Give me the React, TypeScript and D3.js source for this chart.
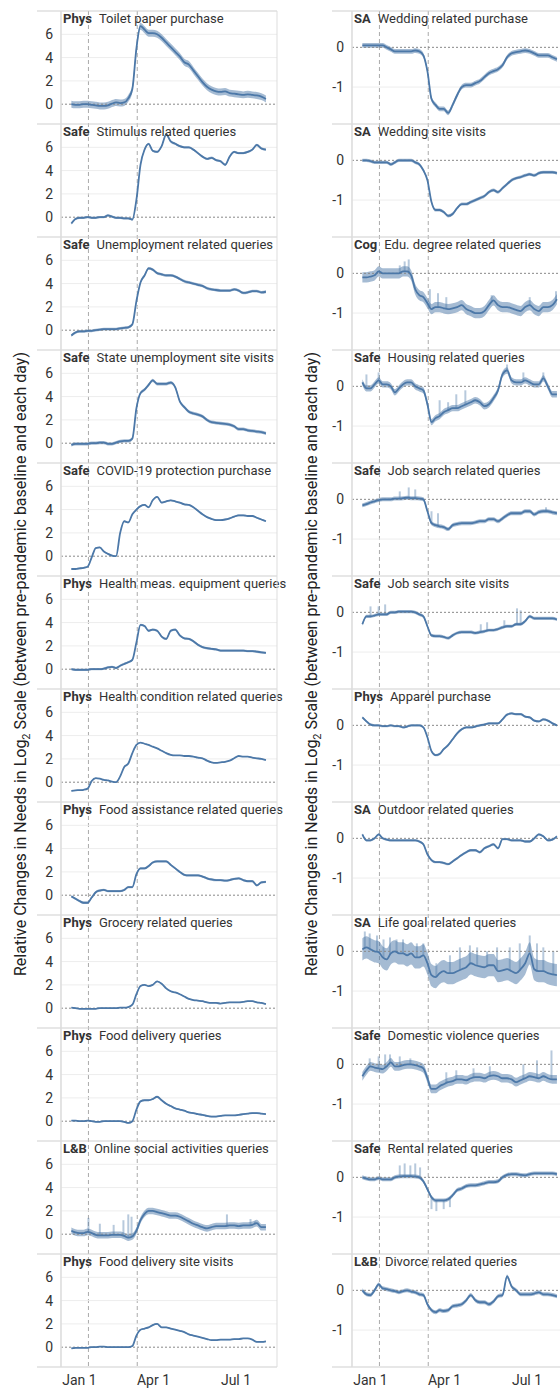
import React from 'react';
import * as d3 from 'd3';

// sample days, counted from Jan 1 2020 (5-day steps)
const days = [-10, -5, 0, 5, 10, 15, 20, 25, 30, 35, 40, 45, 50, 55, 60, 65, 70, 75, 80, 85, 90, 95, 100,
  105, 110, 115, 120, 125, 130, 135, 140, 145, 150, 155, 160, 165, 170, 175, 180, 185, 190, 195, 200, 205, 210, 215];

const tickDays = [0, 91, 182];
const tickLabels = ['Jan 1', 'Apr 1', 'Jul 1'];
const eventDays = [11, 71];

const leftTicks = [0, 2, 4, 6];
const rightTicks = [-1, 0];

// left column
const toiletPaper = [0.0, -0.05, -0.05, 0.0, 0.0, -0.05, -0.1, -0.15, -0.15, -0.1, 0.05, 0.15, 0.1, 0.15, 0.5, 1.3, 4.8, 6.7, 6.4, 6.1, 6.1, 6.0, 5.7, 5.3, 4.9, 4.5, 4.1, 3.6, 3.4, 2.9, 2.4, 1.9, 1.5, 1.25, 1.1, 1.05, 1.1, 0.95, 0.9, 0.85, 0.8, 0.85, 0.8, 0.75, 0.65, 0.45];
const stimulus = [-0.55, -0.15, -0.05, -0.05, 0.0, -0.05, -0.05, 0.0, 0.0, 0.15, 0.05, -0.05, -0.05, -0.1, -0.1, -0.2, 1.5, 4.5, 5.8, 6.3, 5.7, 5.6, 6.1, 7.1, 6.5, 6.3, 6.1, 6.0, 6.0, 5.8, 5.5, 5.2, 5.0, 5.1, 4.9, 4.8, 4.5, 5.2, 5.6, 5.5, 5.5, 5.6, 5.8, 6.2, 5.9, 5.8];
const unemployment = [-0.45, -0.2, -0.1, -0.1, -0.05, -0.05, 0.0, 0.05, 0.1, 0.1, 0.1, 0.1, 0.15, 0.2, 0.25, 0.5, 2.5, 4.1, 4.7, 5.3, 5.2, 4.9, 4.8, 4.7, 4.7, 4.6, 4.4, 4.2, 4.1, 4.0, 3.9, 3.8, 3.6, 3.5, 3.45, 3.4, 3.4, 3.4, 3.5, 3.4, 3.2, 3.25, 3.35, 3.35, 3.25, 3.3];
const stateUnemp = [-0.15, -0.05, -0.05, -0.05, -0.05, 0.0, 0.0, 0.05, 0.05, -0.05, -0.05, 0.05, 0.15, 0.2, 0.2, 0.4, 3.0, 4.3, 4.6, 5.0, 5.4, 5.1, 5.1, 5.1, 5.2, 4.8, 3.6, 3.1, 2.7, 2.55, 2.45, 2.3, 2.0, 1.8, 1.75, 1.7, 1.65, 1.6, 1.45, 1.2, 1.2, 1.1, 1.05, 1.0, 0.95, 0.85];
const covidProtection = [-1.1, -1.1, -1.05, -1.0, -0.9, -0.1, 0.7, 0.75, 0.4, 0.2, 0.05, 0.0, 2.0, 3.0, 2.9, 3.6, 4.0, 4.3, 4.4, 4.2, 4.8, 5.1, 4.6, 4.7, 4.8, 4.7, 4.6, 4.45, 4.4, 4.2, 3.9, 3.6, 3.35, 3.2, 3.1, 3.1, 3.15, 3.25, 3.4, 3.5, 3.5, 3.45, 3.45, 3.3, 3.15, 3.0];
const healthMeas = [0.0, -0.05, -0.05, -0.05, -0.05, 0.0, 0.0, 0.0, 0.05, 0.15, 0.2, 0.1, 0.3, 0.45, 0.6, 0.8, 2.3, 3.8, 3.7, 3.3, 3.4, 3.3, 2.8, 2.6, 3.3, 3.4, 2.9, 2.65, 2.6, 2.4, 2.1, 1.9, 1.8, 1.75, 1.7, 1.6, 1.6, 1.6, 1.6, 1.6, 1.6, 1.55, 1.55, 1.5, 1.45, 1.4];
const healthCondition = [-0.75, -0.7, -0.68, -0.65, -0.55, 0.1, 0.35, 0.3, 0.2, 0.15, 0.05, 0.0, 0.5, 1.3, 1.6, 2.5, 3.2, 3.4, 3.3, 3.2, 3.05, 2.9, 2.7, 2.5, 2.35, 2.3, 2.3, 2.25, 2.25, 2.2, 2.1, 2.05, 1.85, 1.7, 1.65, 1.7, 1.75, 1.85, 2.05, 2.25, 2.2, 2.2, 2.1, 2.05, 2.0, 1.9];
const foodAssistance = [-0.1, -0.3, -0.5, -0.65, -0.65, -0.2, 0.25, 0.4, 0.45, 0.35, 0.35, 0.35, 0.35, 0.45, 0.7, 0.7, 1.8, 2.3, 2.3, 2.5, 2.8, 2.9, 2.9, 2.9, 2.6, 2.3, 2.0, 1.75, 1.7, 1.7, 1.7, 1.6, 1.45, 1.35, 1.3, 1.3, 1.25, 1.3, 1.4, 1.45, 1.3, 1.2, 1.2, 0.85, 1.1, 1.15];
const grocery = [0.05, 0.0, -0.05, -0.05, -0.05, -0.05, -0.05, 0.0, 0.0, 0.0, 0.0, 0.0, 0.05, 0.05, 0.1, 0.3, 1.2, 1.9, 2.0, 1.9, 2.0, 2.3, 2.1, 1.7, 1.45, 1.35, 1.2, 1.0, 0.8, 0.7, 0.65, 0.6, 0.5, 0.45, 0.45, 0.4, 0.45, 0.5, 0.5, 0.5, 0.55, 0.6, 0.6, 0.5, 0.45, 0.35];
const foodDeliveryQ = [0.05, 0.05, 0.0, 0.0, 0.05, 0.0, -0.05, -0.05, 0.0, 0.0, 0.0, 0.0, 0.0, -0.05, -0.15, 0.0, 1.0, 1.7, 1.8, 1.8, 1.9, 2.1, 1.8, 1.5, 1.3, 1.1, 1.0, 0.9, 0.75, 0.7, 0.6, 0.55, 0.45, 0.4, 0.4, 0.45, 0.5, 0.5, 0.5, 0.55, 0.6, 0.65, 0.7, 0.7, 0.65, 0.6];
const onlineSocial = [0.3, 0.15, 0.1, 0.1, 0.2, 0.1, -0.05, -0.1, -0.1, -0.1, -0.05, -0.05, -0.05, -0.15, -0.3, -0.2, 0.3, 1.2, 1.75, 2.0, 2.0, 1.9, 1.8, 1.7, 1.6, 1.6, 1.5, 1.3, 1.1, 0.9, 0.75, 0.6, 0.5, 0.6, 0.7, 0.7, 0.7, 0.75, 0.75, 0.7, 0.75, 0.75, 0.8, 0.95, 0.6, 0.6];
const foodDeliverySite = [-0.1, -0.05, -0.05, -0.05, -0.05, 0.0, 0.0, 0.05, 0.05, 0.0, 0.0, 0.0, 0.0, 0.0, 0.0, 0.1, 1.0, 1.5, 1.6, 1.7, 1.9, 2.0, 1.7, 1.7, 1.6, 1.5, 1.4, 1.3, 1.1, 1.0, 0.9, 0.8, 0.7, 0.6, 0.6, 0.65, 0.65, 0.65, 0.7, 0.7, 0.75, 0.75, 0.65, 0.45, 0.45, 0.5];

// right column
const weddingPurchase = [0.05, 0.05, 0.05, 0.05, 0.05, 0.05, 0.0, -0.05, -0.1, -0.1, -0.1, -0.1, -0.1, -0.08, -0.1, -0.2, -0.6, -1.3, -1.45, -1.55, -1.55, -1.65, -1.45, -1.2, -1.0, -0.95, -0.95, -0.9, -0.85, -0.75, -0.65, -0.6, -0.55, -0.45, -0.25, -0.15, -0.12, -0.1, -0.08, -0.1, -0.15, -0.2, -0.2, -0.2, -0.25, -0.3];
const weddingSite = [0.0, 0.0, -0.02, -0.05, -0.05, -0.05, -0.05, -0.1, -0.05, 0.0, 0.0, 0.0, 0.0, -0.05, -0.1, -0.25, -0.5, -1.05, -1.25, -1.25, -1.3, -1.4, -1.35, -1.2, -1.1, -1.1, -1.05, -1.0, -0.95, -0.9, -0.8, -0.75, -0.8, -0.7, -0.6, -0.5, -0.45, -0.42, -0.38, -0.35, -0.38, -0.32, -0.3, -0.3, -0.3, -0.32];
const eduDegree = [-0.1, -0.1, -0.08, -0.05, 0.05, 0.0, 0.0, 0.0, 0.0, 0.0, 0.05, 0.05, -0.05, -0.4, -0.55, -0.6, -0.75, -0.9, -0.85, -0.85, -0.88, -0.9, -0.88, -0.85, -0.8, -0.9, -0.95, -1.0, -1.0, -0.95, -0.8, -0.68, -0.8, -0.85, -0.85, -0.88, -0.92, -0.95, -0.85, -0.8, -0.9, -0.95, -0.85, -0.85, -0.8, -0.65];
const housing = [0.1, -0.05, -0.05, 0.05, 0.15, 0.05, 0.05, 0.0, -0.15, -0.05, 0.05, 0.1, 0.1, 0.0, -0.05, -0.1, -0.45, -0.9, -0.8, -0.75, -0.65, -0.6, -0.55, -0.55, -0.5, -0.45, -0.4, -0.35, -0.4, -0.5, -0.45, -0.3, -0.1, 0.3, 0.4, 0.15, 0.1, 0.1, 0.15, 0.1, 0.05, 0.05, 0.2, 0.0, -0.2, -0.2];
const jobSearchQ = [-0.15, -0.12, -0.08, -0.05, -0.02, 0.0, 0.0, 0.0, 0.02, 0.02, 0.03, 0.04, 0.03, 0.03, 0.02, 0.0, -0.3, -0.6, -0.65, -0.68, -0.7, -0.75, -0.65, -0.62, -0.6, -0.6, -0.6, -0.58, -0.55, -0.55, -0.5, -0.5, -0.55, -0.48, -0.4, -0.35, -0.35, -0.35, -0.3, -0.3, -0.38, -0.32, -0.3, -0.3, -0.33, -0.35];
const jobSearchSite = [-0.3, -0.1, -0.1, -0.08, -0.05, -0.05, -0.05, 0.0, 0.0, 0.02, 0.02, 0.02, 0.02, 0.0, -0.05, -0.1, -0.35, -0.58, -0.6, -0.6, -0.62, -0.65, -0.58, -0.52, -0.5, -0.5, -0.5, -0.52, -0.5, -0.48, -0.45, -0.45, -0.42, -0.38, -0.35, -0.35, -0.3, -0.3, -0.22, -0.1, -0.15, -0.15, -0.15, -0.15, -0.15, -0.18];
const apparel = [0.2, 0.1, 0.02, 0.0, 0.0, -0.02, -0.02, 0.0, -0.02, -0.02, -0.05, -0.03, 0.0, 0.0, 0.0, -0.05, -0.3, -0.65, -0.75, -0.72, -0.6, -0.5, -0.35, -0.2, -0.1, -0.05, -0.05, -0.03, 0.0, 0.02, 0.05, 0.05, 0.05, 0.15, 0.27, 0.3, 0.28, 0.28, 0.22, 0.2, 0.12, 0.1, 0.15, 0.12, 0.05, 0.0];
const outdoor = [0.1, -0.05, -0.05, 0.0, 0.1, 0.0, -0.03, -0.05, -0.05, -0.05, -0.05, -0.05, -0.05, -0.05, -0.08, -0.15, -0.4, -0.55, -0.6, -0.6, -0.62, -0.65, -0.58, -0.5, -0.42, -0.35, -0.3, -0.3, -0.35, -0.25, -0.2, -0.15, -0.25, -0.02, -0.02, -0.05, -0.05, -0.05, -0.08, -0.08, 0.0, 0.1, 0.05, -0.05, -0.03, 0.05];
const lifeGoal = [0.05, 0.1, 0.05, 0.0, -0.02, -0.15, -0.2, -0.05, 0.0, -0.05, -0.05, -0.1, -0.05, -0.15, -0.15, -0.1, -0.3, -0.6, -0.65, -0.55, -0.5, -0.55, -0.55, -0.5, -0.45, -0.4, -0.3, -0.35, -0.38, -0.4, -0.35, -0.35, -0.5, -0.48, -0.45, -0.5, -0.55, -0.45, -0.3, -0.05, -0.45, -0.5, -0.5, -0.55, -0.58, -0.6];
const domesticViolence = [-0.3, -0.15, -0.05, -0.08, -0.1, -0.12, -0.05, 0.05, -0.05, -0.05, -0.02, 0.0, 0.0, -0.02, -0.05, -0.1, -0.35, -0.62, -0.62, -0.55, -0.5, -0.45, -0.42, -0.38, -0.38, -0.4, -0.35, -0.32, -0.32, -0.35, -0.3, -0.28, -0.3, -0.35, -0.35, -0.38, -0.45, -0.4, -0.35, -0.3, -0.32, -0.35, -0.3, -0.35, -0.38, -0.38];
const rental = [0.0, -0.03, -0.05, -0.05, -0.02, -0.05, -0.05, -0.05, 0.0, 0.02, 0.03, 0.03, 0.03, 0.02, 0.0, -0.1, -0.3, -0.5, -0.58, -0.58, -0.58, -0.55, -0.45, -0.32, -0.28, -0.22, -0.2, -0.2, -0.18, -0.15, -0.12, -0.12, -0.1, 0.0, 0.06, 0.08, 0.08, 0.06, 0.05, 0.08, 0.1, 0.1, 0.1, 0.1, 0.1, 0.08];
const divorce = [0.0, -0.1, -0.12, 0.0, 0.15, 0.05, 0.03, 0.0, -0.02, -0.05, -0.02, 0.0, -0.03, -0.05, -0.1, -0.12, -0.35, -0.5, -0.55, -0.5, -0.52, -0.5, -0.4, -0.38, -0.35, -0.25, -0.12, -0.25, -0.3, -0.3, -0.35, -0.28, -0.15, -0.12, 0.35, 0.1, 0.0, -0.1, -0.1, -0.1, -0.08, -0.05, -0.1, -0.1, -0.12, -0.15];

// noisy daily spikes: [day, value at spike tip]
const onlineSocialSpikes = [[11, 1.4], [25, 0.9], [42, 0.8], [54, 1.2], [60, 1.7], [64, 1.5], [172, 1.7], [198, 1.3], [203, 1.1]];
const eduDegreeSpikes = [[36, 0.2], [42, 0.3], [47, 0.35], [73, -0.4], [83, -0.5], [93, -0.6], [143, -0.55], [185, -0.6], [214, -0.45]];
const housingSpikes = [[-5, 0.3], [10, 0.35], [85, -0.35], [95, -0.4], [104, -0.2], [114, -0.1], [160, 0.55], [178, 0.35], [200, 0.35]];
const jobSearchQSpikes = [[36, 0.2], [47, 0.3], [55, 0.25], [75, -0.3], [83, -0.35], [203, -0.2]];
const jobSearchSiteSpikes = [[0, 0.15], [10, 0.15], [18, 0.2], [131, -0.3], [138, -0.25], [157, -0.2], [171, 0.1], [175, 0.05]];
const lifeGoalSpikes = [[-7, 0.5], [-1, 0.45], [8, 0.4], [16, 0.3], [24, 0.35], [32, 0.3], [40, 0.3], [57, 0.2], [65, 0.2], [81, -0.3], [97, -0.1], [108, 0.1], [119, 0.15], [127, 0.1], [138, 0.0], [149, 0.1], [163, 0.1], [174, 0.2], [185, 0.4], [193, 0.2], [200, 0.1], [211, 0.0]];
const domesticSpikes = [[-1, 0.15], [10, 0.2], [18, 0.25], [24, 0.25], [36, 0.2], [49, 0.15], [93, -0.2], [104, -0.15], [123, -0.1], [141, -0.05], [178, 0.0], [193, 0.1], [209, 0.35]];
const rentalSpikes = [[36, 0.3], [42, 0.35], [49, 0.3], [55, 0.35], [61, 0.25], [75, -0.8], [81, -0.85], [90, -0.8], [97, -0.75]];

type Panel = { tag: string; title: string; values: number[]; ci: number; spikes?: number[][] };

const leftPanels: Panel[] = [
  { tag: 'Phys', title: 'Toilet paper purchase', values: toiletPaper, ci: 0.3 },
  { tag: 'Safe', title: 'Stimulus related queries', values: stimulus, ci: 0.1 },
  { tag: 'Safe', title: 'Unemployment related queries', values: unemployment, ci: 0.12 },
  { tag: 'Safe', title: 'State unemployment site visits', values: stateUnemp, ci: 0.14 },
  { tag: 'Safe', title: 'COVID-19 protection purchase', values: covidProtection, ci: 0.07 },
  { tag: 'Phys', title: 'Health meas. equipment queries', values: healthMeas, ci: 0.1 },
  { tag: 'Phys', title: 'Health condition related queries', values: healthCondition, ci: 0.04 },
  { tag: 'Phys', title: 'Food assistance related queries', values: foodAssistance, ci: 0.1 },
  { tag: 'Phys', title: 'Grocery related queries', values: grocery, ci: 0.05 },
  { tag: 'Phys', title: 'Food delivery queries', values: foodDeliveryQ, ci: 0.06 },
  { tag: 'L&B', title: 'Online social activities queries', values: onlineSocial, ci: 0.28, spikes: onlineSocialSpikes },
  { tag: 'Phys', title: 'Food delivery site visits', values: foodDeliverySite, ci: 0.05 },
];

const rightPanels: Panel[] = [
  { tag: 'SA', title: 'Wedding related purchase', values: weddingPurchase, ci: 0.06 },
  { tag: 'SA', title: 'Wedding site visits', values: weddingSite, ci: 0.04 },
  { tag: 'Cog', title: 'Edu. degree related queries', values: eduDegree, ci: 0.13, spikes: eduDegreeSpikes },
  { tag: 'Safe', title: 'Housing related queries', values: housing, ci: 0.08, spikes: housingSpikes },
  { tag: 'Safe', title: 'Job search related queries', values: jobSearchQ, ci: 0.05, spikes: jobSearchQSpikes },
  { tag: 'Safe', title: 'Job search site visits', values: jobSearchSite, ci: 0.04, spikes: jobSearchSiteSpikes },
  { tag: 'Phys', title: 'Apparel purchase', values: apparel, ci: 0.03 },
  { tag: 'SA', title: 'Outdoor related queries', values: outdoor, ci: 0.03 },
  { tag: 'SA', title: 'Life goal related queries', values: lifeGoal, ci: 0.28, spikes: lifeGoalSpikes },
  { tag: 'Safe', title: 'Domestic violence queries', values: domesticViolence, ci: 0.11, spikes: domesticSpikes },
  { tag: 'Safe', title: 'Rental related queries', values: rental, ci: 0.05, spikes: rentalSpikes },
  { tag: 'L&B', title: 'Divorce related queries', values: divorce, ci: 0.05 },
];

// layout
const WIDTH = 560;
const HEIGHT = 1389;
const colX = [61, 352];
const sepX = [37, 332];
const plotW = 216;
const top = 11;
const rowH = 113;
const BLUE = '#4c78a8';

// the axis is not evenly spaced in the reference, so the scale is piecewise
const x = d3.scaleLinear().domain(tickDays).range([18.5, 92.5, 175]);
const yLeft = d3.scaleLinear().domain([-1.7, 8]).range([rowH, 0]);
const yRight = d3.scaleLinear().domain([-1.93, 0.915]).range([rowH, 0]);

type Pt = [number, number];

const PanelView: React.FC<{ p: Panel; col: number; row: number }> = ({ p, col, row }) => {
  const y = col === 0 ? yLeft : yRight;
  const ticks = col === 0 ? leftTicks : rightTicks;
  const pts: Pt[] = p.values.map((v, i) => [days[i], v]);
  const area = d3.area<Pt>()
    .x(d => x(d[0]))
    .y0(d => y(d[1] - p.ci))
    .y1(d => y(d[1] + p.ci))
    .curve(d3.curveMonotoneX);
  const line = d3.line<Pt>()
    .x(d => x(d[0]))
    .y(d => y(d[1]))
    .curve(d3.curveMonotoneX);
  const valueAt = d3.scaleLinear().domain(days).range(p.values);

  return (
    <g transform={`translate(${colX[col]},${top + row * rowH})`}>
      {ticks.filter(t => t !== 0).map(t => (
        <line key={t} x1={0} x2={plotW} y1={y(t)} y2={y(t)} stroke="#ededed" />
      ))}
      {ticks.map(t => (
        <text key={t} x={-8} y={y(t)} dy="0.36em" textAnchor="end" fontSize={14} fill="#333">{t}</text>
      ))}
      <path d={area(pts) || ''} fill={BLUE} fillOpacity={0.5} />
      {(p.spikes || []).map(([d, v], i) => (
        <line key={i} x1={x(d)} x2={x(d)} y1={y(valueAt(d))} y2={y(v)}
          stroke={BLUE} strokeOpacity={0.4} strokeWidth={2} />
      ))}
      <line x1={0} x2={plotW} y1={y(0)} y2={y(0)} stroke="#888" strokeDasharray="2,2" />
      <path d={line(pts) || ''} fill="none" stroke={BLUE} strokeWidth={1.8} strokeLinejoin="round" />
      <text x={2} y={12.3} fontSize={13} fill="#333">
        <tspan fontWeight="bold">{p.tag}</tspan>
        <tspan dx={7}>{p.title}</tspan>
      </text>
    </g>
  );
};

const App: React.FC = () => {
  const bottom = top + rowH * 12;
  return (
    <svg width={WIDTH} height={HEIGHT} style={{ position: 'absolute', left: 0, top: 0 }}
      fontFamily="Roboto, 'Noto Sans', sans-serif">
      <rect width={WIDTH} height={HEIGHT} fill="#fff" />
      {[0, 1].map(col => (
        <g key={col}>
          {eventDays.map(d => (
            <line key={d} x1={colX[col] + x(d)} x2={colX[col] + x(d)} y1={top} y2={bottom}
              stroke="#aaa" strokeDasharray="4,3" />
          ))}
          {(col === 0 ? leftPanels : rightPanels).map((p, row) => (
            <PanelView key={row} p={p} col={col} row={row} />
          ))}
          {d3.range(13).map(i => (
            <line key={i} x1={sepX[col]} x2={colX[col] + plotW} y1={top + i * rowH} y2={top + i * rowH}
              stroke="#cfcfcf" />
          ))}
          <line x1={colX[col]} x2={colX[col]} y1={top} y2={bottom} stroke="#ddd" strokeWidth={1.6} />
          <line x1={colX[col] + plotW} x2={colX[col] + plotW} y1={top} y2={bottom} stroke="#ddd" />
          {tickDays.map((d, i) => (
            <text key={d} x={colX[col] + x(d)} y={1385} textAnchor="middle" fontSize={14} fill="#333">
              {tickLabels[i]}
            </text>
          ))}
          <text transform={`translate(${25.5 + col * 291},664) rotate(-90)`} textAnchor="middle"
            fontSize={16} fill="#222">
            {'Relative Changes in Needs in Log'}
            <tspan fontSize={11} dy={4}>2</tspan>
            <tspan dy={-4}>{' Scale (between pre-pandemic baseline and each day)'}</tspan>
          </text>
        </g>
      ))}
    </svg>
  );
};

export default App;
